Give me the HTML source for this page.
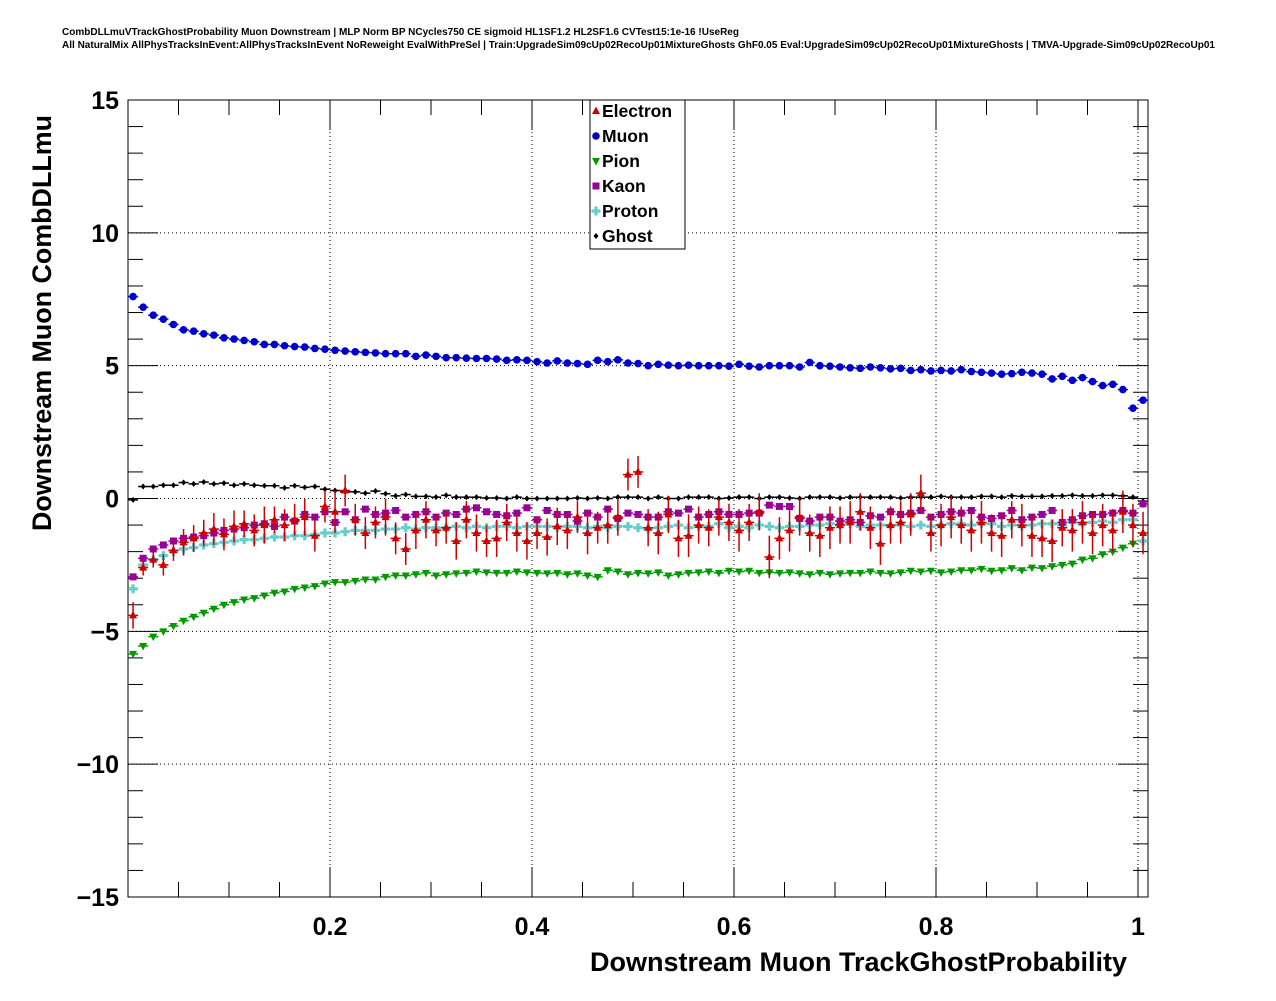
<!DOCTYPE html>
<html><head><meta charset="utf-8"><style>
body{margin:0;background:#fff;}
svg text{font-family:"Liberation Sans",sans-serif;font-weight:bold;}
</style></head><body>
<svg id="chart" width="1276" height="996" xmlns="http://www.w3.org/2000/svg">
<text x="62" y="35" font-size="10" textLength="677" lengthAdjust="spacingAndGlyphs">CombDLLmuVTrackGhostProbability Muon Downstream | MLP Norm BP NCycles750 CE sigmoid HL1SF1.2 HL2SF1.6 CVTest15:1e-16 !UseReg</text>
<text x="62" y="48" font-size="10" textLength="1153" lengthAdjust="spacingAndGlyphs">All NaturalMix AllPhysTracksInEvent:AllPhysTracksInEvent NoReweight EvalWithPreSel | Train:UpgradeSim09cUp02RecoUp01MixtureGhosts GhF0.05 Eval:UpgradeSim09cUp02RecoUp01MixtureGhosts | TMVA-Upgrade-Sim09cUp02RecoUp01</text>
<g id="grid"></g><g id="axes"></g><g id="marks"></g>
<text x="1127" y="971" font-size="27" text-anchor="end" textLength="537" lengthAdjust="spacingAndGlyphs">Downstream Muon TrackGhostProbability</text>
<text transform="translate(51,531) rotate(-90)" font-size="27" textLength="416" lengthAdjust="spacingAndGlyphs">Downstream Muon CombDLLmu</text>
<g id="legend"></g>
</svg>
<script>
const muon=[7.6,7.2,6.9,6.75,6.55,6.35,6.3,6.2,6.15,6.05,6.0,5.95,5.9,5.8,5.8,5.75,5.72,5.7,5.65,5.62,5.58,5.55,5.52,5.5,5.48,5.45,5.45,5.45,5.35,5.4,5.35,5.3,5.3,5.28,5.27,5.27,5.25,5.2,5.22,5.2,5.15,5.1,5.18,5.1,5.08,5.05,5.2,5.15,5.22,5.1,5.08,5.0,5.05,5.02,5.0,5.02,5.0,5.0,5.0,4.98,5.05,4.98,4.95,5.0,5.0,5.0,4.95,5.12,5.0,4.98,4.95,4.92,4.9,4.95,4.92,4.88,4.9,4.82,4.85,4.8,4.82,4.8,4.85,4.78,4.75,4.72,4.68,4.7,4.75,4.72,4.68,4.5,4.6,4.45,4.55,4.4,4.25,4.3,4.1,3.4,3.7];
const pion=[-5.85,-5.55,-5.2,-5.0,-4.8,-4.6,-4.45,-4.3,-4.15,-4.0,-3.9,-3.8,-3.75,-3.65,-3.55,-3.5,-3.4,-3.35,-3.3,-3.2,-3.15,-3.15,-3.1,-3.05,-3.05,-2.95,-2.9,-2.9,-2.85,-2.8,-2.9,-2.85,-2.82,-2.8,-2.75,-2.78,-2.8,-2.8,-2.75,-2.78,-2.8,-2.82,-2.8,-2.85,-2.82,-2.9,-2.95,-2.7,-2.75,-2.85,-2.8,-2.82,-2.78,-2.9,-2.85,-2.8,-2.78,-2.75,-2.8,-2.72,-2.75,-2.72,-2.8,-2.78,-2.8,-2.78,-2.82,-2.85,-2.8,-2.85,-2.82,-2.8,-2.8,-2.75,-2.8,-2.82,-2.78,-2.72,-2.75,-2.72,-2.78,-2.75,-2.7,-2.7,-2.65,-2.72,-2.7,-2.62,-2.7,-2.6,-2.62,-2.55,-2.5,-2.45,-2.3,-2.25,-2.1,-2.0,-1.85,-1.7,-0.2];
const ghost=[-0.05,0.45,0.45,0.5,0.5,0.6,0.55,0.62,0.55,0.58,0.5,0.55,0.5,0.48,0.48,0.4,0.48,0.42,0.45,0.35,0.3,0.25,0.25,0.2,0.28,0.18,0.1,0.15,0.08,0.08,0.05,0.12,0.05,0.05,0.05,0.02,0.02,0.0,0.05,0.0,0.0,0.0,0.0,0.0,0.02,0.0,0.02,0.0,0.05,0.05,0.05,0.0,0.05,0.0,0.0,0.05,0.05,0.05,0.0,0.02,0.05,0.05,0.0,0.05,0.05,0.02,0.0,0.05,0.05,0.05,0.02,0.05,0.05,0.05,0.05,0.05,0.02,0.05,0.05,0.05,0.08,0.05,0.05,0.05,0.08,0.08,0.05,0.1,0.08,0.08,0.08,0.1,0.1,0.12,0.1,0.1,0.12,0.12,0.1,0.05,-0.1];
const kaon=[-2.95,-2.25,-1.9,-1.75,-1.6,-1.5,-1.45,-1.4,-1.3,-1.2,-1.15,-1.1,-1.0,-0.95,-1.05,-0.7,-0.85,-0.6,-0.7,-0.5,-0.9,-0.5,-0.8,-0.4,-0.6,-0.55,-0.45,-0.7,-0.6,-0.5,-0.7,-0.55,-0.6,-0.4,-0.35,-0.5,-0.6,-0.65,-0.55,-0.35,-0.8,-0.45,-0.6,-0.6,-0.85,-0.55,-0.7,-0.4,-0.75,-0.55,-0.6,-0.7,-0.7,-0.5,-0.55,-0.4,-0.7,-0.6,-0.5,-0.6,-0.6,-0.55,-0.55,-0.25,-0.3,-0.3,-0.75,-0.85,-0.7,-0.7,-0.85,-0.8,-0.9,-0.65,-0.7,-0.5,-0.6,-0.55,-0.45,-0.7,-0.6,-0.5,-0.55,-0.45,-0.7,-0.75,-0.65,-0.45,-0.8,-0.7,-0.6,-0.45,-0.9,-0.8,-0.65,-0.6,-0.6,-0.55,-0.45,-0.55,-0.2];
const proton=[-3.4,-2.5,-2.3,-2.15,-2.0,-1.9,-1.85,-1.75,-1.7,-1.65,-1.6,-1.55,-1.55,-1.5,-1.45,-1.45,-1.4,-1.4,-1.35,-1.3,-1.3,-1.25,-1.2,-1.2,-1.2,-1.15,-1.15,-1.1,-1.15,-1.1,-1.1,-1.1,-1.05,-1.1,-1.05,-1.1,-1.05,-1.05,-1.1,-1.05,-1.05,-1.05,-1.1,-1.05,-1.05,-1.1,-1.05,-1.1,-1.05,-1.05,-1.1,-1.15,-1.1,-1.05,-1.0,-1.1,-1.05,-1.05,-0.95,-1.1,-1.05,-1.1,-1.0,-1.05,-1.1,-1.05,-1.05,-1.0,-1.0,-0.95,-1.0,-0.95,-1.05,-1.0,-1.0,-1.05,-1.0,-1.05,-1.0,-1.05,-1.0,-0.95,-0.95,-1.0,-0.95,-0.95,-1.05,-1.0,-1.05,-1.0,-0.95,-0.95,-1.0,-0.9,-0.95,-0.9,-0.85,-0.9,-0.8,-0.8,-1.6];
const electron=[-4.4,-2.6,-2.3,-2.5,-1.95,-1.65,-1.5,-1.3,-1.15,-1.35,-1.05,-0.95,-1.2,-1.0,-0.8,-1.0,-0.8,-0.7,-1.4,-0.3,-0.5,0.3,-0.8,-1.3,-0.9,-0.7,-1.5,-1.9,-1.2,-0.8,-1.2,-1.1,-1.6,-0.8,-1.3,-1.6,-1.5,-0.9,-1.3,-1.6,-1.3,-1.45,-1.05,-1.2,-0.7,-1.3,-1.1,-1.0,-0.7,0.9,1.0,-1.1,-1.3,-0.6,-1.5,-1.4,-1.0,-1.1,-0.7,-0.9,-1.2,-0.9,-0.5,-2.2,-1.5,-1.2,-0.7,-1.3,-1.4,-1.1,-1.0,-0.9,-0.5,-1.1,-1.7,-1.0,-0.9,-0.6,0.2,-1.3,-1.0,-0.7,-1.0,-1.2,-0.9,-1.3,-1.4,-0.8,-1.0,-1.4,-1.5,-1.6,-1.1,-1.2,-0.9,-1.3,-1.0,-1.2,-0.5,-1.0,-1.3];
const electronErr=[0.5,0.3,0.3,0.4,0.4,0.5,0.5,0.5,0.6,0.6,0.6,0.5,0.6,0.7,0.5,0.6,0.6,0.7,0.6,0.6,0.8,0.6,0.6,0.6,0.6,0.7,0.6,0.6,0.7,0.7,0.6,0.6,0.7,0.7,0.7,0.6,0.7,0.7,0.7,0.7,0.6,0.7,0.7,0.7,0.6,0.8,0.6,0.7,0.7,0.6,0.6,0.7,0.8,0.7,0.7,0.8,0.7,0.7,0.7,0.7,0.8,0.7,0.7,0.8,0.8,0.8,0.7,0.7,0.8,0.8,0.7,0.8,0.7,0.8,0.8,0.7,0.8,0.8,0.7,0.7,0.8,0.8,0.7,0.8,0.8,0.7,0.8,0.7,0.8,0.8,0.7,0.8,0.7,0.8,0.8,0.8,0.8,0.8,0.8,0.8,0.8];
const xTicks=[0.2,0.4,0.6,0.8,1.0];
const xTickLabels=["0.2","0.4","0.6","0.8","1"];
const yTicks=[-15,-10,-5,0,5,10,15];
const yTickLabels=["\u221215","\u221210","\u22125","0","5","10","15"];
const binWidth=0.01;

const NS="http://www.w3.org/2000/svg";
const L=128,R=1148,T=100,B=897;
const X0=0, X1=1.0099;
const sx=v=>L+(v-X0)/(X1-X0)*(R-L);
const sy=v=>B-(v+15)/30*(B-T);
function mk(tag,attrs,parent){const e=document.createElementNS(NS,tag);for(const k in attrs)e.setAttribute(k,attrs[k]);parent.appendChild(e);return e;}
const grid=document.getElementById('grid'),axes=document.getElementById('axes'),marks=document.getElementById('marks');
mk('rect',{x:L,y:T,width:R-L,height:B-T,fill:'none',stroke:'#000','stroke-width':1},axes);
xTicks.forEach((t,i)=>{
  const g=mk('line',{x1:sx(t),x2:sx(t),y1:T,y2:B,stroke:'#000','stroke-dasharray':'1,3','stroke-width':1},grid);
  
  const lb=mk('text',{x:sx(t),y:935,'font-size':25,'text-anchor':'middle'},axes);lb.textContent=xTickLabels[i];
  
});
for(let v=0;v<=1.0001;v+=0.05){const major=Math.abs(v/0.2-Math.round(v/0.2))<1e-6;const len=major?30:15;
  const tk=mk('line',{x1:sx(v),x2:sx(v),y1:B,y2:B-len,stroke:'#000'},axes);
  const tk2=mk('line',{x1:sx(v),x2:sx(v),y1:T,y2:T+len,stroke:'#000'},axes);}
yTicks.forEach((t,i)=>{
  if(t>-15&&t<15){const g=mk('line',{x1:L,x2:R,y1:sy(t),y2:sy(t),stroke:'#000','stroke-dasharray':'1,3'},grid);
  }
  const lb=mk('text',{x:119,y:sy(t)+9,'font-size':25,'text-anchor':'end'},axes);lb.textContent=yTickLabels[i];
  
});
for(let v=-15;v<=15;v++){const len=(v%5===0)?30:15;
  const a=mk('line',{x1:L,x2:L+len,y1:sy(v),y2:sy(v),stroke:'#000'},axes);
  const b=mk('line',{x1:R,x2:R-len,y1:sy(v),y2:sy(v),stroke:'#000'},axes);}

function marker(g,shape,cx,cy,col){
  if(shape==='tri')mk('polygon',{points:`${cx},${cy-4.5} ${cx-4},${cy+3} ${cx+4},${cy+3}`,fill:col},g);
  else if(shape==='circ')mk('circle',{cx,cy,r:3.8,fill:col},g);
  else if(shape==='tdown')mk('polygon',{points:`${cx},${cy+4.5} ${cx-4},${cy-3} ${cx+4},${cy-3}`,fill:col},g);
  else if(shape==='sq')mk('rect',{x:cx-3.5,y:cy-3.5,width:7,height:7,fill:col},g);
  else if(shape==='cross')mk('path',{d:`M${cx-1.6},${cy-4.5}h3.2v2.9h2.9v3.2h-2.9v2.9h-3.2v-2.9h-2.9v-3.2h2.9z`,fill:col},g);
  else mk('path',{d:`M${cx},${cy-3}L${cx+2.5},${cy}L${cx},${cy+3}L${cx-2.5},${cy}z`,fill:col},g);
}
function series(name,data,col,shape,err){
  const g=mk('g',{},marks);
  data.forEach((v,i)=>{const xc=(i+0.5)*binWidth;const cx=sx(xc),cy=sy(v);const hw=(sx(binWidth)-sx(0))/2;
    const p=mk('g',{},g);
    mk('line',{x1:cx-hw,x2:cx+hw,y1:cy,y2:cy,stroke:col,'stroke-width':1.5},p);
    const e=err?err[i]:0.08;mk('line',{x1:cx,x2:cx,y1:sy(v+e),y2:sy(v-e),stroke:col,'stroke-width':1.5},p);
    marker(p,shape,cx,cy,col);});
}
series('pion',pion,'#009900','tdown');
series('ghost',ghost,'#000','diam');
series('proton',proton,'#66cccc','cross');
series('kaon',kaon,'#990099','sq');
series('electron',electron,'#cc0000','tri',electronErr);
series('muon',muon,'#0000cc','circ');

const lg=document.getElementById('legend');
mk('rect',{x:590,y:100,width:95,height:149,fill:'#fff',stroke:'#000'},lg);
const ents=[['Electron','#cc0000','tri'],['Muon','#0000cc','circ'],['Pion','#009900','tdown'],['Kaon','#990099','sq'],['Proton','#66cccc','cross'],['Ghost','#000','diam']];
ents.forEach((e,i)=>{const y=111+i*25;const g=mk('g',{},lg);
  
  marker(g,e[2],596,y,e[1]);const t=mk('text',{x:602,y:y+6,'font-size':17.5},g);t.textContent=e[0];});
</script>
</body></html>
